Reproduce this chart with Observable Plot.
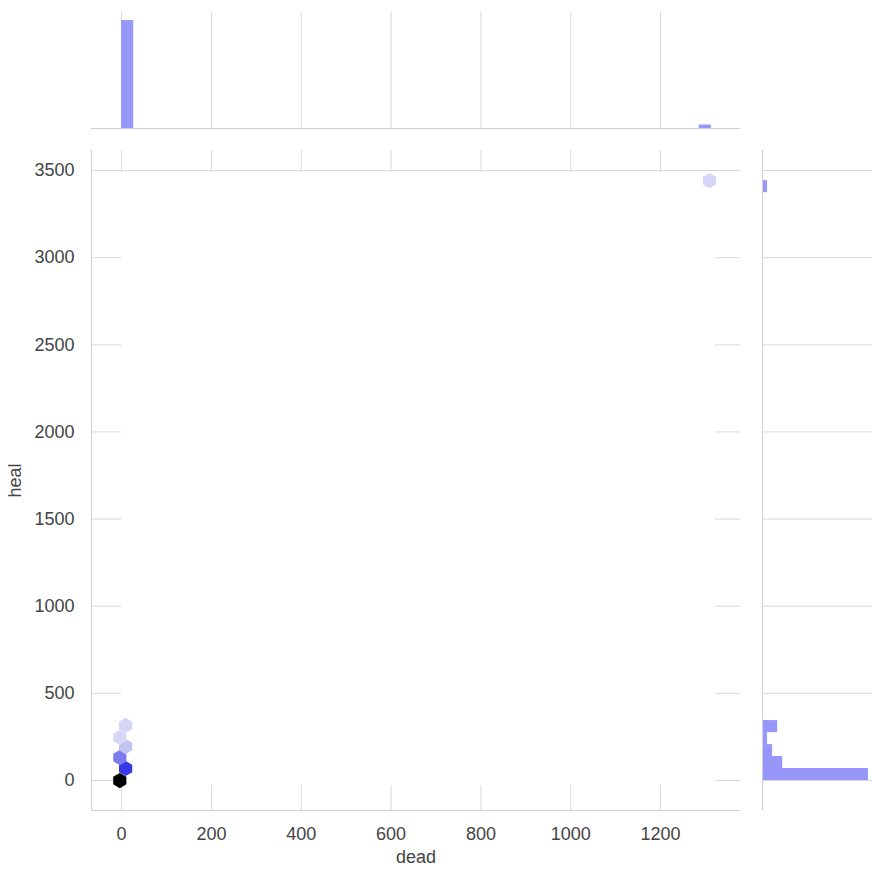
<!DOCTYPE html>
<html><head><meta charset="utf-8">
<script src="https://cdn.jsdelivr.net/npm/d3@7"></script>
<script src="https://cdn.jsdelivr.net/npm/@observablehq/plot@0.6"></script>
<style>
html,body{margin:0;padding:0;background:#fff;}
#wrap{position:relative;width:872px;height:877px;overflow:hidden;background:#fff;}
#wrap svg{position:absolute;top:0;overflow:visible;}
</style></head><body><div id="wrap"></div>
<script>
// ---- data ----
const xTicks = [0, 200, 400, 600, 800, 1000, 1200];
const yTicks = [0, 500, 1000, 1500, 2000, 2500, 3000, 3500];

// hexbin cells of the joint plot
const hexDead  = [-4, 9, -4, 9, -4, 9, 1309];
const hexHeal  = [0, 69, 132, 195, 247, 316, 3442];
const hexCount = [20, 4, 3, 2, 1, 1, 1];

// marginal histogram of "dead"
const deadBinStart = [0, 1286];
const deadBinEnd   = [27, 1313];
const deadBinCount = [31, 1];

// marginal histogram of "heal"
const healBinStart = [0, 69, 138, 206, 275, 3373];
const healBinEnd   = [69, 138, 206, 275, 344, 3442];
const healBinCount = [21, 4, 2, 1, 3, 1];

// ---- tables built from the arrays ----
const hexes = hexDead.map((d, i) => ({dead: d, heal: hexHeal[i], count: hexCount[i]}));
const deadBins = deadBinStart.map((s, i) => ({start: s, end: deadBinEnd[i], count: deadBinCount[i]}));
const healBins = healBinStart.map((s, i) => ({start: s, end: healBinEnd[i], count: healBinCount[i]}));

const xDomain = [-67, 1378];
const yDomain = [-172, 3615];
const gridColor = "#d9d9d9";
const spineColor = "#cfcfcf";
const histColor = "#9696fb";
const font = "'Liberation Sans', Arial, sans-serif";
const plain = d => String(d);

const wrap = document.getElementById("wrap");

// ---- top marginal histogram ----
const topHist = Plot.plot({
  width: 745, height: 135,
  marginLeft: 91, marginRight: 5, marginTop: 12, marginBottom: 7,
  style: {background: "transparent", fontFamily: font},
  x: {domain: xDomain, axis: null},
  y: {domain: [0, 33.3], axis: null},
  marks: [
    Plot.ruleX(xTicks, {stroke: gridColor}),
    Plot.rectY(deadBins, {x1: "start", x2: "end", y: "count", fill: histColor}),
    Plot.ruleY([0], {stroke: spineColor})
  ]
});
topHist.style.left = "0px";
wrap.appendChild(topHist);

// ---- main hexbin plot ----
const main = Plot.plot({
  width: 745, height: 877,
  marginLeft: 91, marginRight: 5, marginTop: 150, marginBottom: 67,
  style: {background: "transparent", fontFamily: font, fontSize: "18px", color: "#444"},
  x: {domain: xDomain},
  y: {domain: yDomain},
  color: {type: "linear", domain: [1, 2, 3, 4, 20],
          range: ["#d6d6f7", "#c2c2f3", "#7c7cef", "#3838e8", "#000000"]},
  marks: [
    // short grid stubs along the frame edges
    Plot.tickY(yTicks, {y: d => d, stroke: gridColor, insetRight: 619}),
    Plot.tickY(yTicks, {y: d => d, stroke: gridColor, insetLeft: 624}),
    Plot.tickX(xTicks, {x: d => d, stroke: gridColor, insetBottom: 638}),
    Plot.tickX(xTicks, {x: d => d, stroke: gridColor, insetTop: 635}),
    Plot.ruleY([yTicks[yTicks.length - 1]], {stroke: gridColor}),
    Plot.ruleX([xDomain[0]], {stroke: spineColor}),
    Plot.ruleY([yDomain[0]], {stroke: spineColor}),
    Plot.dot(hexes, {x: "dead", y: "heal", fill: "count", r: 6.6, symbol: "hexagon"}),
    Plot.axisX(xTicks, {anchor: "bottom", tickSize: 0, tickPadding: 17, tickFormat: plain,
      label: "dead", labelAnchor: "center", labelArrow: "none", labelOffset: 52}),
    Plot.axisY(yTicks, {anchor: "left", tickSize: 0, tickPadding: 17, tickFormat: plain,
      label: "heal", labelAnchor: "center", labelArrow: "none", labelOffset: 83})
  ]
});
main.style.left = "0px";
wrap.appendChild(main);

// ---- right marginal histogram ----
const rightHist = Plot.plot({
  width: 115, height: 877,
  marginLeft: 5, marginRight: 0, marginTop: 150, marginBottom: 67,
  style: {background: "transparent", fontFamily: font},
  x: {domain: [0, 21.8], axis: null},
  y: {domain: yDomain, axis: null},
  marks: [
    Plot.ruleY(yTicks, {stroke: gridColor}),
    Plot.rectX(healBins, {y1: "start", y2: "end", x: "count", fill: histColor}),
    Plot.ruleX([0], {stroke: spineColor})
  ]
});
rightHist.style.left = "757px";
wrap.appendChild(rightHist);
</script>
</body></html>
